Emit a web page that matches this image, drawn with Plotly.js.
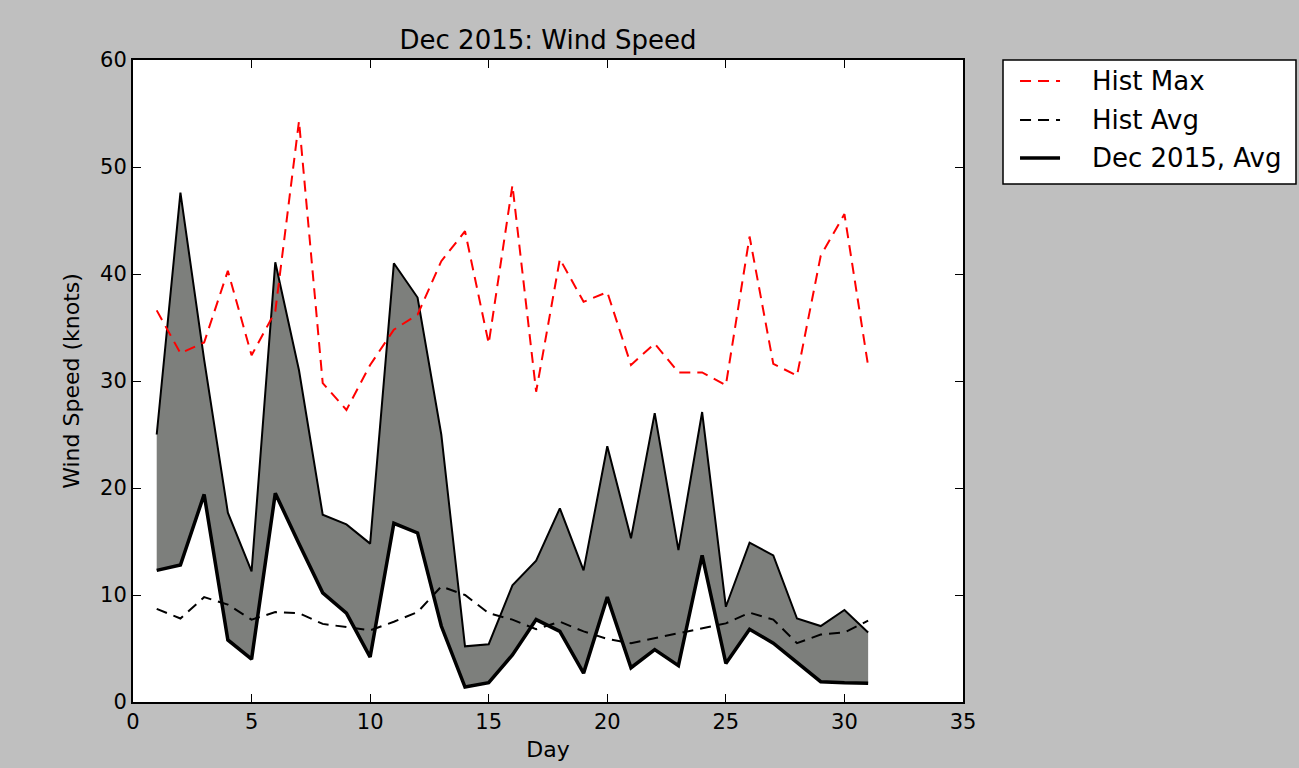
<!DOCTYPE html>
<html>
<head>
<meta charset="utf-8">
<script src="https://cdn.plot.ly/plotly-3.0.1.min.js"></script>
<style>html,body{margin:0;padding:0;background:#bfbfbf;}#chart{width:1299px;height:768px;}</style>
</head>
<body>
<div id="chart"></div>
<script>
const days = [1,2,3,4,5,6,7,8,9,10,11,12,13,14,15,16,17,18,19,20,21,22,23,24,25,26,27,28,29,30,31];
const histMax = [36.6,32.6,33.6,40.3,32.4,36.5,54.3,29.8,27.3,31.5,34.8,36.2,41.2,44.0,33.5,48.3,29.0,41.4,37.4,38.3,31.5,33.5,30.8,30.8,29.6,43.5,31.6,30.5,41.7,45.6,31.4];
const histAvg = [8.7,7.8,9.8,9.1,7.7,8.4,8.3,7.3,7.0,6.7,7.5,8.4,10.8,10.0,8.3,7.7,6.8,7.5,6.6,5.9,5.5,5.95,6.4,6.9,7.35,8.35,7.7,5.5,6.3,6.5,7.6];
const decMax = [25.0,47.6,32.0,17.7,12.2,41.1,31.0,17.5,16.6,14.8,41.0,37.8,25.0,5.2,5.4,10.9,13.2,18.1,12.3,23.9,15.3,27.0,14.2,27.1,8.9,14.9,13.7,7.8,7.1,8.6,6.5];
const decAvg = [12.3,12.8,19.4,5.8,4.0,19.5,14.8,10.2,8.3,4.2,16.7,15.8,7.1,1.4,1.8,4.4,7.7,6.6,2.7,9.8,3.2,4.9,3.4,13.7,3.6,6.8,5.5,3.7,1.9,1.8,1.75];
const xTicks = [0,5,10,15,20,25,30,35];
const yTicks = [0,10,20,30,40,50,60];
const legendNames = ['Hist Max', 'Hist Avg', 'Dec 2015, Avg'];

const DASH = '11px,7px';
const styles = [
  {color: 'red', width: 2, dash: DASH},
  {color: 'black', width: 2, dash: DASH},
  {color: 'black', width: 3.5, dash: 'solid'}
];

const traces = [
  {x: days, y: decMax, mode: 'lines', line: {color: 'black', width: 2}, showlegend: false, hoverinfo: 'skip'},
  {x: days, y: decAvg, mode: 'lines', fill: 'tonexty', fillcolor: 'rgb(125,127,124)', line: {color: 'black', width: 0}, showlegend: false, hoverinfo: 'skip'},
  {x: days, y: histMax, mode: 'lines', name: legendNames[0], line: styles[0], showlegend: false},
  {x: days, y: histAvg, mode: 'lines', name: legendNames[1], line: styles[1], showlegend: false},
  {x: days, y: decAvg, mode: 'lines', name: legendNames[2], line: styles[2], showlegend: false}
];

// custom legend box (paper coordinates)
const shapes = [
  {type: 'rect', xref: 'paper', yref: 'paper', x0: 1.0482, x1: 1.4012, y0: 0.8069, y1: 1.0,
   line: {color: 'black', width: 1.5}, fillcolor: 'white', layer: 'above'}
];
const annotations = [];
const rowY = [0.9673, 0.9065, 0.8474];
legendNames.forEach((nm, i) => {
  shapes.push({type: 'line', xref: 'paper', yref: 'paper', x0: 1.0687, x1: 1.1169, y0: rowY[i], y1: rowY[i],
    line: {color: styles[i].color, width: styles[i].width, dash: styles[i].dash}, layer: 'above'});
  annotations.push({xref: 'paper', yref: 'paper', x: 1.1530, y: rowY[i], xanchor: 'left', yanchor: 'middle',
    text: nm, showarrow: false, font: {size: 26, color: 'black'}});
});

const layout = {
  width: 1299, height: 768,
  paper_bgcolor: '#bfbfbf', plot_bgcolor: 'white',
  margin: {l: 133, r: 336, t: 60, b: 66},
  font: {family: 'DejaVu Sans', size: 21, color: 'black'},
  showlegend: false,
  title: {text: 'Dec 2015: Wind Speed', font: {size: 26, color: 'black'}, x: 0.5, xref: 'paper', xanchor: 'center', y: 0.948, yref: 'container', yanchor: 'middle'},
  xaxis: {
    range: [0, 35], tickvals: xTicks, ticks: 'inside', ticklen: 8, tickcolor: 'black', tickwidth: 1,
    showline: true, linecolor: 'black', linewidth: 2, mirror: 'ticks', showgrid: false, zeroline: false,
    title: {text: 'Day', font: {size: 22}, standoff: 8}
  },
  yaxis: {
    range: [0, 60], tickvals: yTicks, ticks: 'inside', ticklen: 8, tickcolor: 'black', tickwidth: 1,
    showline: true, linecolor: 'black', linewidth: 2, mirror: 'ticks', showgrid: false, zeroline: false,
    title: {text: 'Wind Speed (knots)', font: {size: 22}, standoff: 14}
  },
  shapes: shapes,
  annotations: annotations
};

Plotly.newPlot('chart', traces, layout, {displayModeBar: false, staticPlot: true});
</script>
</body>
</html>
